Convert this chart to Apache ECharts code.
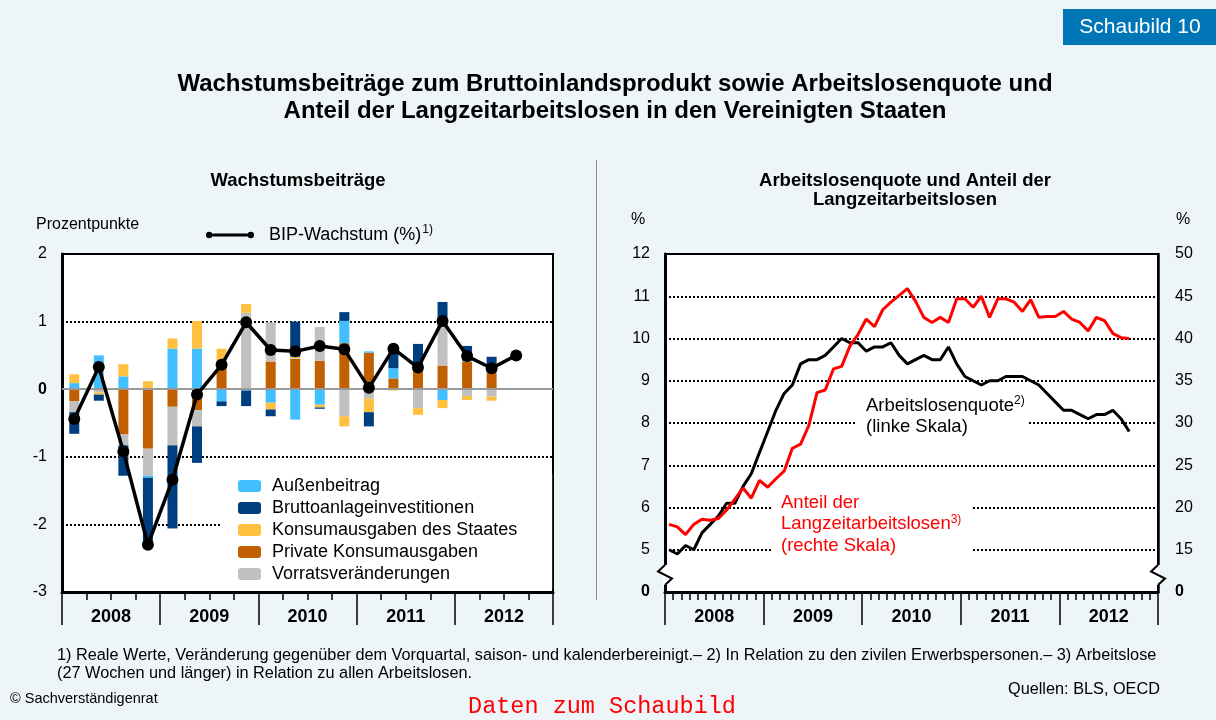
<!DOCTYPE html>
<html>
<head>
<meta charset="utf-8">
<script src="https://cdn.jsdelivr.net/npm/echarts@6.0.0/dist/echarts.min.js"></script>
<style>
html, body { margin: 0; padding: 0; background: #edf5f8; }
#box1 { width: 1216px; height: 720px; }
</style>
</head>
<body>
<div id="box1"></div>
<script>
// ▼ Daten
const aJahre = ['2008', '2009', '2010', '2011', '2012'];
const aQuartale = [
    '2008 Q1', '2008 Q2', '2008 Q3', '2008 Q4',
    '2009 Q1', '2009 Q2', '2009 Q3', '2009 Q4',
    '2010 Q1', '2010 Q2', '2010 Q3', '2010 Q4',
    '2011 Q1', '2011 Q2', '2011 Q3', '2011 Q4',
    '2012 Q1', '2012 Q2', '2012 Q3', '2012 Q4',
];
// Wachstumsbeiträge (Prozentpunkte), 2008 Q1 bis 2012 Q2
const aAussen  = [0.09, 0.50, 0.19, -0.03, 0.60, 0.60, -0.18, -0.02, -0.20, -0.45, -0.23, 0.33, 0.02, 0.15, 0, -0.16, 0.02, 0.02];
const aBrutto  = [-0.32, -0.09, -0.45, -1.04, -1.23, -0.54, -0.07, -0.23, -0.10, 0.52, -0.02, 0.13, -0.21, 0.31, 0.38, 0.36, 0.21, 0.22];
const aStaat   = [0.13, -0.03, 0.18, 0.12, 0.15, 0.41, 0.20, 0.13, -0.10, 0.02, -0.04, -0.15, -0.20, -0.02, -0.10, -0.12, -0.06, -0.06];
const aPrivat  = [-0.18, -0.02, -0.67, -0.88, -0.26, -0.31, 0.40, 0, 0.41, 0.45, 0.42, 0.68, 0.54, 0.16, 0.29, 0.35, 0.41, 0.24];
const aVorrat  = [-0.16, -0.03, -0.16, -0.40, -0.57, -0.24, 0, 1.13, 0.58, 0.01, 0.50, -0.40, -0.14, 0, -0.28, 0.58, -0.10, -0.11];
// BIP-Wachstum (%), bis 2012 Q3
const aBIP = [-0.44, 0.33, -0.92, -2.30, -1.34, -0.08, 0.36, 0.99, 0.58, 0.56, 0.64, 0.59, 0.02, 0.60, 0.32, 1.01, 0.49, 0.31, 0.50];

// Monatswerte Jan 2008 bis Sep 2012
const aQuote = [
    5.0, 4.9, 5.1, 5.0, 5.4, 5.6, 5.8, 6.1, 6.1, 6.5, 6.8, 7.3,
    7.8, 8.3, 8.7, 8.9, 9.4, 9.5, 9.5, 9.6, 9.8, 10.0, 9.9, 9.9,
    9.7, 9.8, 9.8, 9.9, 9.6, 9.4, 9.5, 9.6, 9.5, 9.5, 9.8, 9.4,
    9.1, 9.0, 8.9, 9.0, 9.0, 9.1, 9.1, 9.1, 9.0, 8.9, 8.7, 8.5,
    8.3, 8.3, 8.2, 8.1, 8.2, 8.2, 8.3, 8.1, 7.8,
];
const aLangzeit = [
    18.0, 17.7, 16.8, 18.0, 18.6, 18.5, 18.7, 19.7, 21.0, 22.3, 21.1, 23.2,
    22.4, 23.4, 24.3, 27.0, 27.5, 29.7, 33.6, 33.9, 36.4, 36.7, 39.1, 40.5,
    42.3, 41.4, 43.4, 44.3, 45.1, 45.9, 44.4, 42.5, 41.9, 42.5, 41.9, 44.7,
    44.7, 43.7, 45.0, 42.5, 44.7, 44.7, 44.3, 43.2, 44.6, 42.5, 42.6, 42.6,
    43.2, 42.3, 41.9, 40.9, 42.5, 42.1, 40.6, 40.1, 40.0,
];
const aMonate = [];
aJahre.forEach(sJahr => {
    for (let m = 1; m <= 12; m++) aMonate.push(`${sJahr}-${String(m).padStart(2, '0')}`);
});

const sFont = '"Liberation Sans", Arial, sans-serif';
const oDotted = { color: '#000', type: [2, 2], width: 2 };

// Stapelreihenfolge von der Nulllinie aus: Privat, Vorrat, Außen, Staat, Brutto
const aBarDefs = [
    ['Private Konsumausgaben', aPrivat, '#c06000'],
    ['Vorratsveränderungen', aVorrat, '#c0c0c0'],
    ['Außenbeitrag', aAussen, '#40c0ff'],
    ['Konsumausgaben des Staates', aStaat, '#ffc040'],
    ['Bruttoanlageinvestitionen', aBrutto, '#003f7f'],
];

const series = aBarDefs.map(([name, data, color]) => ({
    name,
    type: 'bar',
    stack: 'beitrag',
    xAxisIndex: 0,
    yAxisIndex: 0,
    barWidth: 10,
    data,
    itemStyle: { color },
    emphasis: { disabled: true },
}));
// Nulllinie
series[series.length - 1].markLine = {
    silent: true,
    symbol: 'none',
    label: { show: false },
    lineStyle: { color: '#999', width: 2, type: 'solid' },
    data: [{ yAxis: 0 }],
};
series.push({
    name: 'BIP-Wachstum (%)',
    type: 'line',
    xAxisIndex: 0,
    yAxisIndex: 0,
    data: aBIP,
    symbol: 'circle',
    symbolSize: 12,
    lineStyle: { color: '#000', width: 3.5 },
    itemStyle: { color: '#000' },
    z: 5,
});
series.push({
    name: 'Arbeitslosenquote',
    type: 'line',
    xAxisIndex: 2,
    yAxisIndex: 1,
    data: aQuote,
    symbol: 'none',
    lineStyle: { color: '#000', width: 3 },
    z: 5,
});
series.push({
    name: 'Langzeitarbeitslose',
    type: 'line',
    xAxisIndex: 2,
    yAxisIndex: 2,
    data: aLangzeit,
    symbol: 'none',
    lineStyle: { color: '#ff0000', width: 3 },
    z: 5,
});

function quarterAxis(gridIndex, data, tickLen){
    return {
        gridIndex, type: 'category', data, position: 'bottom', boundaryGap: true,
        axisLine: { onZero: false, lineStyle: { color: '#000', width: 3 } },
        axisTick: { show: true, interval: 0, length: tickLen, lineStyle: { color: '#000', width: 1.5 } },
        axisLabel: { show: false },
        splitLine: { show: false },
    };
}
function yearAxis(gridIndex){
    return {
        gridIndex, type: 'category', data: aJahre, position: 'bottom', boundaryGap: true,
        axisLine: { show: false, onZero: false },
        axisTick: { show: true, interval: 0, length: 33, lineStyle: { color: '#000', width: 1.5 } },
        axisLabel: { fontFamily: sFont, fontWeight: 'bold', fontSize: 18, color: '#000', margin: 16 },
        splitLine: { show: false },
    };
}
const oBoldRich = { b: { fontFamily: sFont, fontSize: 16, fontWeight: 'bold', color: '#000' } };

const breakMark = (x) => [
    { type: 'rect', z: 100, shape: { x: x - 2, y: 565, width: 4, height: 20 }, style: { fill: '#fff' } },
    { type: 'polyline', z: 101, shape: { points: [[x, 565], [x - 7, 571.5], [x + 7, 578.5], [x, 585]] }, style: { stroke: '#000', lineWidth: 2, fill: null } },
];

const option = {
    backgroundColor: '#edf5f8',
    animation: false,
    textStyle: { fontFamily: sFont },
    grid: [
        { left: 62, top: 254, width: 491, height: 338, show: true, backgroundColor: '#fff', borderColor: '#000', borderWidth: 2 },
        { left: 665, top: 254, width: 493, height: 338, show: true, backgroundColor: '#fff', borderColor: '#000', borderWidth: 2 },
    ],
    xAxis: [
        quarterAxis(0, aQuartale, 8),
        yearAxis(0),
        quarterAxis(1, aMonate, 8),
        yearAxis(1),
    ],
    yAxis: [
        {
            gridIndex: 0, type: 'value', min: -3, max: 2, interval: 1,
            axisLine: { show: true, lineStyle: { color: '#000', width: 3 } },
            axisTick: { show: false },
            axisLabel: { fontFamily: sFont, fontSize: 16, color: '#000', margin: 15, formatter: v => v === 0 ? '{b|0}' : String(v), rich: oBoldRich },
            splitLine: { show: true, lineStyle: oDotted },
        },
        {
            gridIndex: 1, type: 'value', position: 'left', min: 4, max: 12, interval: 1,
            axisLine: { show: true, lineStyle: { color: '#000', width: 3 } },
            axisTick: { show: false },
            axisLabel: { fontFamily: sFont, fontSize: 16, color: '#000', margin: 15, formatter: v => v === 4 ? '{b|0}' : String(v), rich: oBoldRich },
            splitLine: { show: true, lineStyle: oDotted },
        },
        {
            gridIndex: 1, type: 'value', position: 'right', min: 10, max: 50, interval: 5,
            axisLine: { show: true, lineStyle: { color: '#000', width: 2.5 } },
            axisTick: { show: false },
            axisLabel: { fontFamily: sFont, fontSize: 16, color: '#000', margin: 17, formatter: v => v === 10 ? '{b|0}' : String(v), rich: oBoldRich },
            splitLine: { show: false },
        },
    ],
    legend: [
        {
            data: ['BIP-Wachstum (%)'],
            left: 201, top: 219,
            icon: 'path://M6.4,2.4H41.6V5.6H6.4Z M0,4a3.2,3.2 0 1,0 6.4,0a3.2,3.2 0 1,0 -6.4,0Z M41.6,4a3.2,3.2 0 1,0 6.4,0a3.2,3.2 0 1,0 -6.4,0Z',
            itemWidth: 48, itemHeight: 8,
            selectedMode: false,
            formatter: name => name + '{sup|1)}',
            textStyle: {
                fontFamily: sFont, fontSize: 18, color: '#000', padding: [0, 0, 0, 10],
                rich: { sup: { fontFamily: sFont, fontSize: 12, color: '#000', verticalAlign: 'bottom', padding: [0, 0, 10, 1] } },
            },
        },
        {
            data: ['Außenbeitrag', 'Bruttoanlageinvestitionen', 'Konsumausgaben des Staates', 'Private Konsumausgaben', 'Vorratsveränderungen'],
            orient: 'vertical',
            left: 222, top: 474,
            padding: [3, 35, 6, 16],
            backgroundColor: '#fff',
            itemWidth: 23, itemHeight: 12, itemGap: 4,
            selectedMode: false,
            textStyle: { fontFamily: sFont, fontSize: 18, color: '#000', padding: [0, 0, 0, 6] },
        },
    ],
    graphic: [
        { type: 'rect', shape: { x: 1063, y: 9, width: 153, height: 36 }, style: { fill: '#0076b6' } },
        { type: 'text', x: 1140, y: 27, style: { text: 'Schaubild 10', fill: '#fff', font: `21px ${sFont}`, align: 'center', verticalAlign: 'middle' } },
        { type: 'text', x: 615, y: 71, style: { text: 'Wachstumsbeiträge zum Bruttoinlandsprodukt sowie Arbeitslosenquote und\nAnteil der Langzeitarbeitslosen in den Vereinigten Staaten', fill: '#000', font: `bold 24px ${sFont}`, align: 'center', lineHeight: 27 } },
        { type: 'line', shape: { x1: 596.5, y1: 160, x2: 596.5, y2: 600 }, style: { stroke: '#8a8a8a', lineWidth: 1 } },
        { type: 'text', x: 298, y: 181, style: { text: 'Wachstumsbeiträge', fill: '#000', font: `bold 18.5px ${sFont}`, align: 'center', verticalAlign: 'middle' } },
        { type: 'text', x: 905, y: 171, style: { text: 'Arbeitslosenquote und Anteil der\nLangzeitarbeitslosen', fill: '#000', font: `bold 18.5px ${sFont}`, align: 'center', lineHeight: 19 } },
        { type: 'text', x: 36, y: 225, style: { text: 'Prozentpunkte', fill: '#000', font: `16px ${sFont}`, verticalAlign: 'middle' } },
        { type: 'text', x: 638, y: 220, style: { text: '%', fill: '#000', font: `16px ${sFont}`, align: 'center', verticalAlign: 'middle' } },
        { type: 'text', x: 1183, y: 220, style: { text: '%', fill: '#000', font: `16px ${sFont}`, align: 'center', verticalAlign: 'middle' } },
        {
            type: 'text', x: 856, y: 393, z: 1,
            style: {
                text: '{n|Arbeitslosenquote}{s|2)}\n{n|(linke Skala)}',
                backgroundColor: '#fff', padding: [2, 4, 2, 10], lineHeight: 21,
                rich: {
                    n: { fill: '#000', font: `18.5px ${sFont}`, lineHeight: 21 },
                    s: { fill: '#000', font: `12px ${sFont}`, verticalAlign: 'top', lineHeight: 21 },
                },
            },
        },
        {
            type: 'text', x: 771, y: 491, z: 1,
            style: {
                text: '{n|Anteil der}\n{n|Langzeitarbeitslosen}{s|3)}\n{n|(rechte Skala)}',
                backgroundColor: '#fff', padding: [1, 10, 1, 10], lineHeight: 21.5,
                rich: {
                    n: { fill: '#ff0000', font: `18.5px ${sFont}`, lineHeight: 21.5 },
                    s: { fill: '#ff0000', font: `12px ${sFont}`, verticalAlign: 'top', lineHeight: 21.5 },
                },
            },
        },
        ...breakMark(665),
        ...breakMark(1158),
        { type: 'text', x: 57, y: 647, style: { text: '1) Reale Werte, Veränderung gegenüber dem Vorquartal, saison- und kalenderbereinigt.– 2) In Relation zu den zivilen Erwerbspersonen.– 3) Arbeitslose\n(27 Wochen und länger) in Relation zu allen Arbeitslosen.', fill: '#000', font: `16.3px ${sFont}`, lineHeight: 18 } },
        { type: 'text', x: 1160, y: 690, style: { text: 'Quellen: BLS, OECD', fill: '#000', font: `16.3px ${sFont}`, align: 'right', verticalAlign: 'middle' } },
        { type: 'text', x: 10, y: 699, style: { text: '© Sachverständigenrat', fill: '#000', font: `14.5px ${sFont}`, verticalAlign: 'middle' } },
        { type: 'text', x: 602, y: 707, style: { text: 'Daten zum Schaubild', fill: '#ff0000', font: `23.5px "Liberation Mono", "DejaVu Sans Mono", monospace`, align: 'center', verticalAlign: 'middle' } },
    ],
    series,
};

const myChart = echarts.init(document.getElementById('box1'));
myChart.setOption(option);
</script>
</body>
</html>
